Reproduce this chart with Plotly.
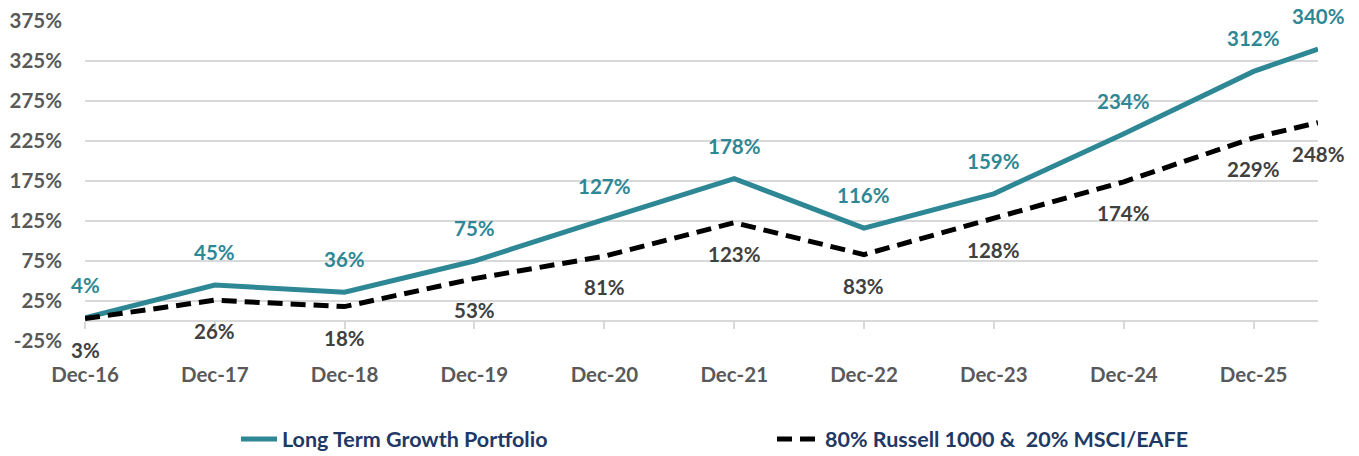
import plotly.graph_objects as go

dates = ["2016-12-31", "2017-12-31", "2018-12-31", "2019-12-31", "2020-12-31",
         "2021-12-31", "2022-12-31", "2023-12-31", "2024-12-31", "2025-12-31",
         "2026-06-30"]
growth = [4, 45, 36, 75, 127, 178, 116, 159, 234, 312, 340]
bench = [3, 26, 18, 53, 81, 123, 83, 128, 174, 229, 248]
tick_dates = dates[:10]
tick_labels = ["Dec-16", "Dec-17", "Dec-18", "Dec-19", "Dec-20",
               "Dec-21", "Dec-22", "Dec-23", "Dec-24", "Dec-25"]
y_ticks = [-25, 25, 75, 125, 175, 225, 275, 325, 375]

name_growth = "Long Term Growth Portfolio"
name_bench = "80% Russell 1000 &  20% MSCI/EAFE"

TEAL = "#2E8794"
FONT = "Lato"
FS = 20.5

fig = go.Figure()
fig.add_trace(go.Scatter(x=dates, y=growth, mode="lines", name=name_growth,
                         line=dict(color=TEAL, width=5), hoverinfo="skip",
                         legend="legend"))
fig.add_trace(go.Scatter(x=dates, y=bench, mode="lines", name=name_bench,
                         line=dict(color="#000000", width=5, dash="15px,8px"),
                         hoverinfo="skip", legend="legend2"))
# dummy trace so the zero-level tick axis is drawn
fig.add_trace(go.Scatter(x=dates, y=growth, xaxis="x2", mode="lines",
                         line=dict(width=0, color="rgba(0,0,0,0)"),
                         showlegend=False, hoverinfo="skip"))

annotations = []
for d, v in zip(dates, growth):
    annotations.append(dict(x=d, y=v, text=f"{v}%", showarrow=False, yshift=33,
                            font=dict(family=FONT, size=FS, color=TEAL, weight="bold")))
for d, v in zip(dates, bench):
    annotations.append(dict(x=d, y=v, text=f"{v}%", showarrow=False, yshift=-31,
                            font=dict(family=FONT, size=FS, color="#404040", weight="bold")))

legend_font = dict(family=FONT, size=21.5, color="#1F3864", weight="bold")
ymin, ymax = -25, 375
fig.update_layout(
    width=1359, height=456,
    margin=dict(l=85, r=41, t=21, b=115, autoexpand=False),
    plot_bgcolor="white", paper_bgcolor="white",
    annotations=annotations,
    xaxis=dict(type="date", range=[dates[0], dates[-1]], tickvals=tick_dates,
               ticktext=tick_labels, showgrid=False, zeroline=False, ticks="",
               ticklabelstandoff=19,
               tickfont=dict(family=FONT, size=FS, color="#595959", weight="bold")),
    xaxis2=dict(type="date", overlaying="x", anchor="free",
                position=(0 - ymin) / (ymax - ymin), matches="x",
                tickvals=tick_dates, showticklabels=False, ticks="outside",
                ticklen=7, tickwidth=1.5, tickcolor="#d9d9d9",
                showgrid=False, zeroline=False, showline=False),
    yaxis=dict(range=[ymin, ymax], tickvals=y_ticks,
               ticktext=[f"{v}%" for v in y_ticks],
               showgrid=True, gridcolor="#d9d9d9", gridwidth=2,
               zeroline=True, zerolinecolor="#d9d9d9", zerolinewidth=2,
               ticks="", ticklabelstandoff=22,
               tickfont=dict(family=FONT, size=FS, color="#595959", weight="bold")),
    showlegend=True,
    legend=dict(orientation="h", xref="container", x=236 / 1359, xanchor="left",
                yref="container", y=1 - 439 / 456, yanchor="middle",
                itemwidth=36, font=legend_font, bgcolor="rgba(0,0,0,0)"),
    legend2=dict(orientation="h", xref="container", x=772 / 1359, xanchor="left",
                 yref="container", y=1 - 439 / 456, yanchor="middle",
                 itemwidth=43, font=legend_font, bgcolor="rgba(0,0,0,0)"),
)

fig.write_html("out.html", config={"displayModeBar": False},
               post_script="document.body.style.margin='0';")
